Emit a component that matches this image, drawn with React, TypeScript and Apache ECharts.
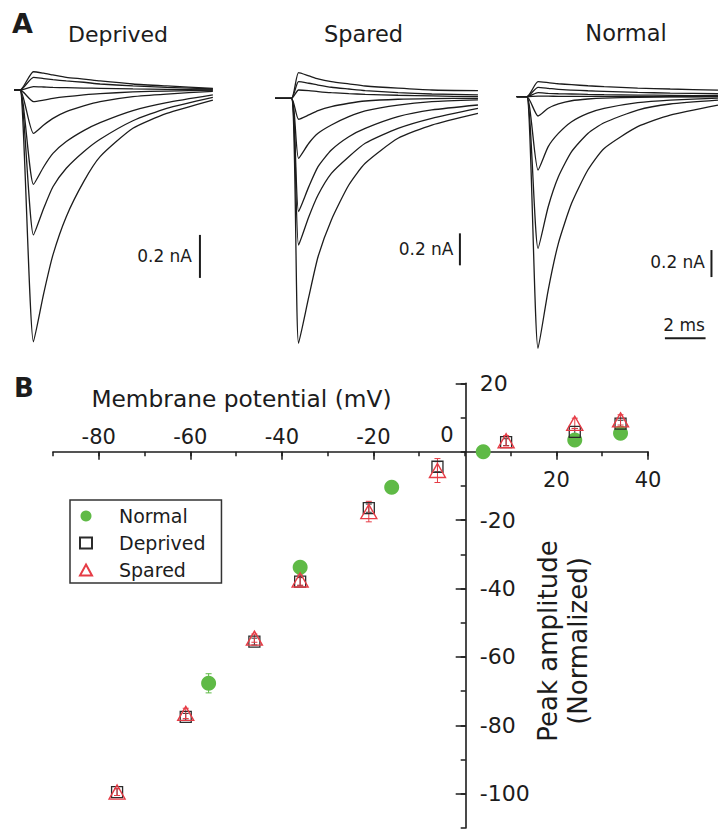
import React, { useEffect, useRef } from 'react';
import * as echarts from 'echarts';

const FONT = '"DejaVu Sans", "Liberation Sans", sans-serif';
const INK = '#1c1c1c';

// ---------------- Panel A: current traces (time in ms, current in nA) ----------------
const tDeprived = [0, 0.3, 0.95, 1.45, 1.9, 2.55, 3.4, 4.2, 5.8, 7.45, 9.7];
const deprivedTraces = [
  [0, 0, 0.085, 0.078, 0.07, 0.059, 0.051, 0.042, 0.028, 0.019, 0.008],
  [0, 0, 0.059, 0.053, 0.048, 0.042, 0.036, 0.028, 0.019, 0.012, 0.005],
  [0, 0, 0.016, 0.014, 0.012, 0.011, 0.009, 0.008, 0.005, 0.003, 0],
  [0, 0, -0.054, -0.047, -0.039, -0.031, -0.023, -0.017, -0.009, -0.005, 0],
  [0, 0, -0.202, -0.163, -0.132, -0.101, -0.074, -0.054, -0.031, -0.019, -0.006],
  [0, 0, -0.439, -0.357, -0.295, -0.24, -0.189, -0.152, -0.096, -0.059, -0.023],
  [0, 0, -0.674, -0.55, -0.45, -0.364, -0.287, -0.229, -0.143, -0.085, -0.034],
  [0, 0, -1.171, -0.946, -0.767, -0.589, -0.426, -0.31, -0.178, -0.109, -0.047],
];

const tSpared = [0, 0.8, 1.15, 1.65, 2.1, 2.75, 3.6, 4.4, 6.0, 7.65, 9.9];
const sparedTraces = [
  [0, 0, 0.16, 0.14, 0.121, 0.104, 0.09, 0.077, 0.063, 0.052, 0.048],
  [0, 0, 0.104, 0.094, 0.083, 0.069, 0.058, 0.048, 0.035, 0.027, 0.021],
  [0, 0, 0.052, 0.048, 0.042, 0.035, 0.029, 0.025, 0.019, 0.015, 0.01],
  [0, 0, -0.131, -0.104, -0.077, -0.052, -0.031, -0.017, -0.006, -0.002, 0],
  [0, 0, -0.375, -0.281, -0.219, -0.167, -0.115, -0.079, -0.042, -0.021, -0.01],
  [0, 0, -0.708, -0.552, -0.427, -0.323, -0.24, -0.188, -0.115, -0.073, -0.042],
  [0, 0, -0.917, -0.74, -0.604, -0.469, -0.365, -0.281, -0.188, -0.125, -0.063],
  [0, 0, -1.531, -1.24, -0.99, -0.76, -0.542, -0.406, -0.25, -0.167, -0.094],
];

const tNormal = [0, 0.5, 1.05, 1.55, 2.05, 2.7, 3.5, 4.3, 5.95, 7.55, 9.9];
const normalTraces = [
  [0, 0, 0.111, 0.104, 0.096, 0.089, 0.081, 0.074, 0.064, 0.057, 0.049],
  [0, 0, 0.069, 0.062, 0.054, 0.049, 0.044, 0.04, 0.032, 0.027, 0.022],
  [0, 0, 0.03, 0.025, 0.022, 0.02, 0.017, 0.015, 0.012, 0.01, 0.007],
  [0, 0, 0.005, 0.004, 0.003, 0.003, 0.002, 0.002, 0.001, 0.001, 0],
  [0, 0, -0.143, -0.086, -0.054, -0.03, -0.017, -0.01, -0.005, -0.002, 0],
  [0, 0, -0.543, -0.37, -0.272, -0.185, -0.123, -0.086, -0.044, -0.025, -0.01],
  [0, 0, -1.123, -0.815, -0.593, -0.407, -0.272, -0.193, -0.099, -0.054, -0.025],
  [0, 0, -1.864, -1.432, -1.086, -0.79, -0.543, -0.383, -0.222, -0.136, -0.062],
];

const panelTitles = ['Deprived', 'Spared', 'Normal'];
const SCALE_NA = 0.2;
const SCALE_MS = 2;

// ---------------- Panel B: I-V relation ----------------
const vDeprivedSpared = [-76, -61, -46, -36, -21, -6, 9, 24, 34];
const ampDeprived = [-99.5, -77.5, -55.5, -38, -16.5, -4.4, 2.8, 5.8, 8.2];
const errDeprived = [1, 1, 1, 1.2, 1.2, 1.5, 1, 1, 1];
const ampSpared = [-99.5, -76.5, -54.5, -37.5, -17.5, -5.5, 3.2, 8.3, 9.3];
const errSpared = [1, 1.5, 1.2, 1.5, 3, 3.5, 1.5, 1.5, 1.5];
const vNormal = [-56, -36, -16, 4, 24, 34];
const ampNormal = [-67.7, -33.8, -10.4, 0, 3.4, 5.4];
const errNormal = [2.8, 1, 1, 0.5, 1, 1];

const xLabelsAbove = [-80, -60, -40, -20, 0];
const xLabelsBelow = [20, 40];
const xMajorTicks = [-80, -60, -40, -20, 20, 40];
const yLabels = [20, -20, -40, -60, -80, -100];
const yMajorTicks = [20, -20, -40, -60, -80, -100];
const V_MIN = -90;
const V_MAX = 40;
const A_MIN = -110;
const A_MAX = 20;

const GREEN = '#5fba46';
const RED = '#e63c46';
const SQUARE = '#2b2b2b';

// ---------------- layout (pixels) ----------------
const panelGrids = [
  { left: 14, top: 47, width: 205, height: 344, ymin: -1.4, ymax: 0.2 },
  { left: 275, top: 66.3, width: 205, height: 320, ymin: -1.8, ymax: 0.2 },
  { left: 516.7, top: 56.2, width: 205, height: 337.5, ymin: -2.2, ymax: 0.3 },
];
const barPos = [
  { t: 9.07, top: -0.674 },
  { t: 9.02, top: -0.844 },
  { t: 9.58, top: -1.136 },
];
const timeBarPos = { t0: 7.29, y: -1.79 };
// Panel B plotting box, and pixel of the zero lines
const B = { left: 53, top: 383.3, width: 595, height: 444.7 };
const ZERO_Y = 451.7; // pixel row of amplitude 0
const ZERO_X = 465.7; // pixel column of 0 mV

function buildOption() {
  const grid: any[] = panelGrids.map((g) => ({ left: g.left, top: g.top, width: g.width, height: g.height }));
  grid.push({ ...B }); // 3: data
  grid.push({ left: B.left, top: ZERO_Y, width: B.width, height: B.top + B.height - ZERO_Y }); // 4: x line + labels above
  grid.push({ left: B.left, top: B.top, width: B.width, height: ZERO_Y - B.top }); // 5: x labels below
  grid.push({ left: B.left, top: B.top, width: ZERO_X - B.left, height: B.height }); // 6: y line + labels
  grid.push({ left: B.left, top: B.top, width: ZERO_X - B.left, height: B.height }); // 7: y major ticks

  const xAxis: any[] = panelGrids.map((_, i) => ({ gridIndex: i, type: 'value', min: 0, max: 10, show: false }));
  const yAxis: any[] = panelGrids.map((g, i) => ({ gridIndex: i, type: 'value', min: g.ymin, max: g.ymax, show: false }));

  const axisLineStyle = { color: INK, width: 1.6 };
  const tickStyle = { color: INK, width: 1.5 };
  const hiddenX = (gi: number) => ({ gridIndex: gi, type: 'value', min: V_MIN, max: V_MAX, show: false });
  const hiddenY = (gi: number) => ({ gridIndex: gi, type: 'value', min: A_MIN, max: A_MAX, show: false });

  // 3: data grid
  xAxis.push(hiddenX(3));
  yAxis.push(hiddenY(3));
  // 4: x axis line and minor ticks (labels above are drawn by a label series on this axis)
  xAxis.push({
    gridIndex: 4,
    type: 'value',
    min: V_MIN,
    max: V_MAX,
    interval: 10,
    position: 'top',
    axisLine: { show: true, onZero: false, lineStyle: axisLineStyle },
    axisTick: { show: true, inside: true, length: 4.5, lineStyle: tickStyle },
    axisLabel: { show: false },
    splitLine: { show: false },
  });
  yAxis.push({ gridIndex: 4, type: 'value', min: 0, max: 1, show: false });
  // 5: major x ticks (downwards) and labels below
  xAxis.push({
    gridIndex: 5,
    type: 'value',
    min: V_MIN,
    max: V_MAX,
    interval: 10,
    position: 'bottom',
    axisLine: { show: false, onZero: false },
    axisTick: { show: true, inside: false, length: 8, customValues: xMajorTicks, lineStyle: tickStyle },
    axisLabel: { show: true, customValues: xLabelsBelow, margin: 18, fontSize: 21, fontFamily: FONT, color: INK },
    splitLine: { show: false },
  });
  yAxis.push({ gridIndex: 5, type: 'value', min: 0, max: 1, show: false });
  // 6: y axis line, minor ticks, labels to the right
  xAxis.push({ gridIndex: 6, type: 'value', min: 0, max: 1, show: false });
  yAxis.push({
    gridIndex: 6,
    type: 'value',
    min: A_MIN,
    max: A_MAX,
    interval: 10,
    position: 'right',
    axisLine: { show: true, onZero: false, lineStyle: axisLineStyle },
    axisTick: { show: true, inside: true, length: 5, lineStyle: tickStyle },
    axisLabel: { show: true, customValues: yLabels, margin: 14, fontSize: 22, fontFamily: FONT, color: INK },
    splitLine: { show: false },
  });
  // 7: y major ticks
  xAxis.push({ gridIndex: 7, type: 'value', min: 0, max: 1, show: false });
  yAxis.push({
    gridIndex: 7,
    type: 'value',
    min: A_MIN,
    max: A_MAX,
    interval: 10,
    position: 'right',
    axisLine: { show: false, onZero: false },
    axisTick: { show: true, inside: true, length: 10, customValues: yMajorTicks, lineStyle: tickStyle },
    axisLabel: { show: false },
    splitLine: { show: false },
  });

  const series: any[] = [];
  const allTraces = [deprivedTraces, sparedTraces, normalTraces];
  const allTimes = [tDeprived, tSpared, tNormal];
  allTraces.forEach((traces, p) => {
    traces.forEach((tr, k) => {
      series.push({
        type: 'line',
        name: `${panelTitles[p]} trace ${k + 1}`,
        xAxisIndex: p,
        yAxisIndex: p,
        data: allTimes[p].map((t, j) => [t, tr[j]]),
        symbol: 'none',
        showSymbol: false,
        smooth: 0.2,
        silent: true,
        clip: false,
        lineStyle: { color: INK, width: 1.3 },
      });
    });
    series.push({
      type: 'line',
      name: `${panelTitles[p]} scale bar`,
      xAxisIndex: p,
      yAxisIndex: p,
      data: [
        [barPos[p].t, barPos[p].top],
        [barPos[p].t, barPos[p].top - SCALE_NA],
      ],
      symbol: 'none',
      silent: true,
      clip: false,
      lineStyle: { color: INK, width: 2 },
    });
  });
  series.push({
    type: 'line',
    name: 'time scale bar',
    xAxisIndex: 2,
    yAxisIndex: 2,
    data: [
      [timeBarPos.t0, timeBarPos.y],
      [timeBarPos.t0 + SCALE_MS, timeBarPos.y],
    ],
    symbol: 'none',
    silent: true,
    clip: false,
    lineStyle: { color: INK, width: 2 },
  });

  // tick labels of the membrane-potential axis that sit above the axis line
  series.push({
    type: 'scatter',
    name: 'x tick labels',
    xAxisIndex: 4,
    yAxisIndex: 4,
    silent: true,
    clip: false,
    symbol: 'circle',
    symbolSize: 1,
    itemStyle: { color: 'rgba(0,0,0,0)' },
    data: xLabelsAbove.map((v) => (v === 0 ? { value: [v, 1], label: { offset: [-18, -2] } } : { value: [v, 1] })),
    label: {
      show: true,
      position: 'top',
      distance: 4,
      fontSize: 21,
      fontFamily: FONT,
      color: INK,
      opacity: 1,
      formatter: (p: any) => String(p.value[0]),
    },
  });

  const errSeries = (name: string, xs: number[], ys: number[], es: number[], color: string) => ({
    type: 'custom',
    name,
    xAxisIndex: 3,
    yAxisIndex: 3,
    silent: true,
    z: 1,
    encode: { x: 0, y: 1 },
    data: xs.map((x, i) => [x, ys[i], es[i]]),
    renderItem: (params: any, api: any) => {
      const x = api.value(0);
      const y = api.value(1);
      const e = api.value(2);
      const a = api.coord([x, y + e]);
      const b = api.coord([x, y - e]);
      const hw = 3;
      const st = { stroke: color, lineWidth: 1 };
      return {
        type: 'group',
        children: [
          { type: 'line', shape: { x1: a[0], y1: a[1], x2: b[0], y2: b[1] }, style: st },
          { type: 'line', shape: { x1: a[0] - hw, y1: a[1], x2: a[0] + hw, y2: a[1] }, style: st },
          { type: 'line', shape: { x1: b[0] - hw, y1: b[1], x2: b[0] + hw, y2: b[1] }, style: st },
        ],
      };
    },
  });

  series.push(errSeries('Normal error', vNormal, ampNormal, errNormal, GREEN));
  series.push(errSeries('Deprived error', vDeprivedSpared, ampDeprived, errDeprived, SQUARE));
  series.push(errSeries('Spared error', vDeprivedSpared, ampSpared, errSpared, RED));

  series.push({
    type: 'scatter',
    name: 'Normal',
    xAxisIndex: 3,
    yAxisIndex: 3,
    z: 3,
    symbol: 'circle',
    symbolSize: 15,
    itemStyle: { color: GREEN, opacity: 1 },
    data: vNormal.map((v, i) => [v, ampNormal[i]]),
  });
  series.push({
    type: 'scatter',
    name: 'Deprived',
    xAxisIndex: 3,
    yAxisIndex: 3,
    z: 4,
    symbol: 'rect',
    symbolSize: 11,
    itemStyle: { color: 'rgba(255,255,255,0)', borderColor: SQUARE, borderWidth: 1.3, opacity: 1 },
    data: vDeprivedSpared.map((v, i) => [v, ampDeprived[i]]),
  });
  series.push({
    type: 'scatter',
    name: 'Spared',
    xAxisIndex: 3,
    yAxisIndex: 3,
    z: 5,
    symbol: 'triangle',
    symbolSize: [16, 14],
    itemStyle: { color: 'rgba(255,255,255,0)', borderColor: RED, borderWidth: 1.4, opacity: 1 },
    data: vDeprivedSpared.map((v, i) => [v, ampSpared[i]]),
  });

  const txt = (text: string, x: number, y: number, size: number, align = 'center', extra: any = {}) => ({
    type: 'text',
    x,
    y,
    silent: true,
    style: {
      text,
      fontSize: size,
      fontFamily: FONT,
      fill: INK,
      align,
      verticalAlign: 'middle',
      ...extra,
    },
  });

  const graphic: any[] = [
    txt('A', 12, 23, 27, 'left', { fontWeight: 'bold' }),
    txt('B', 14, 388, 26, 'left', { fontWeight: 'bold' }),
    txt(panelTitles[0], 118, 34, 22),
    txt(panelTitles[1], 363.5, 34, 22.5),
    txt(panelTitles[2], 626, 33, 22.5),
    txt('0.2 nA', 192, 256, 17, 'right'),
    txt('0.2 nA', 453.5, 249, 17, 'right'),
    txt('0.2 nA', 705, 262, 17, 'right'),
    txt('2 ms', 684, 325, 17, 'center'),
    txt('Membrane potential (mV)', 241.5, 398, 23.3, 'center'),
    {
      type: 'text',
      x: 563,
      y: 641,
      rotation: Math.PI / 2,
      silent: true,
      style: {
        text: 'Peak amplitude\n(Normalized)',
        fontSize: 26,
        fontFamily: FONT,
        fill: INK,
        align: 'center',
        verticalAlign: 'middle',
        lineHeight: 30.5,
      },
    },
  ];

  return {
    animation: false,
    backgroundColor: '#ffffff',
    textStyle: { fontFamily: FONT },
    grid,
    xAxis,
    yAxis,
    legend: {
      data: ['Normal', 'Deprived', 'Spared'],
      orient: 'vertical',
      left: 70,
      top: 500,
      padding: [6, 16, 3, 9],
      itemWidth: 12,
      itemHeight: 11,
      itemGap: 7,
      borderColor: '#333',
      borderWidth: 1.5,
      borderRadius: 0,
      selectedMode: false,
      textStyle: { fontSize: 19, fontFamily: FONT, color: INK, lineHeight: 20, padding: [0, 0, 0, 22] },
    },
    graphic,
    series,
  };
}

export default function App() {
  const ref = useRef<HTMLDivElement>(null);
  useEffect(() => {
    if (!ref.current) return;
    const chart = echarts.init(ref.current, null, { renderer: 'svg' });
    chart.setOption(buildOption() as any);
    return () => chart.dispose();
  }, []);
  return (
    <div
      ref={ref}
      style={{ position: 'absolute', left: 0, top: 0, width: 720, height: 830, background: '#fff' }}
    />
  );
}
